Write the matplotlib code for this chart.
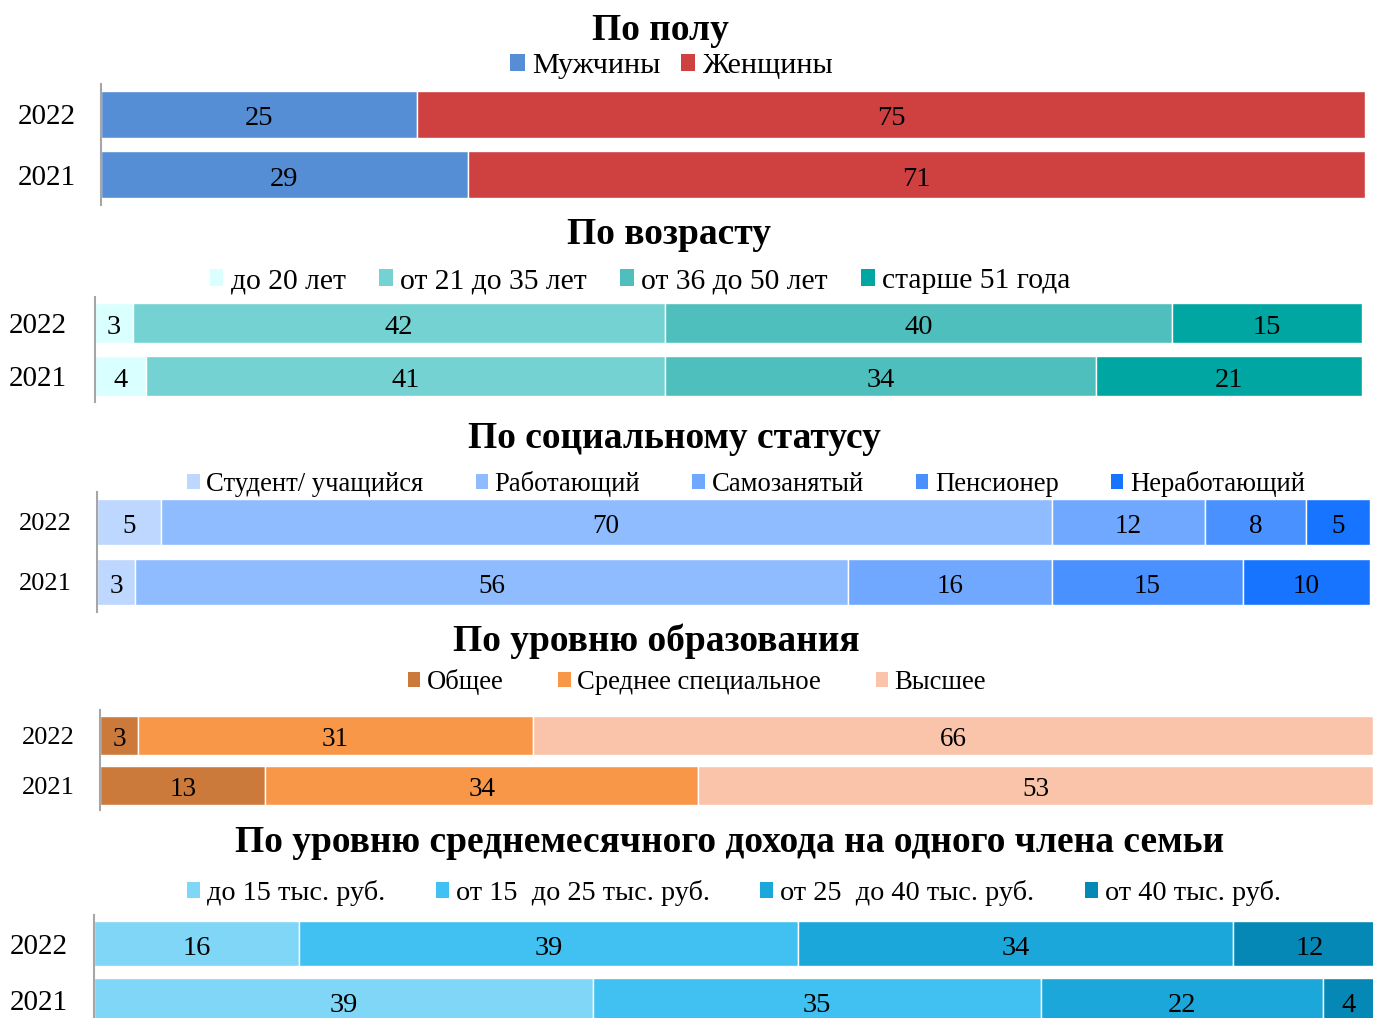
import matplotlib
matplotlib.use('Agg')
import matplotlib.pyplot as plt
from matplotlib.patches import Patch

plt.rcParams['font.family'] = ['Liberation Serif', 'DejaVu Serif']

W, H = 1373, 1018

years = ['2021', '2022']

# По полу
gender_titles = ['Мужчины', 'Женщины']
gender_2022 = [25, 75]
gender_2021 = [29, 71]
gender_colors = ['#558ED5', '#CF4040']

# По возрасту
age_titles = ['до 20 лет', 'от 21 до 35 лет', 'от 36 до 50 лет', 'старше 51 года']
age_2022 = [3, 42, 40, 15]
age_2021 = [4, 41, 34, 21]
age_colors = ['#DAFFFF', '#74D3D2', '#4FBFBD', '#00A6A1']

# По социальному статусу
status_titles = ['Студент/ учащийся', 'Работающий', 'Самозанятый', 'Пенсионер', 'Неработающий']
status_2022 = [5, 70, 12, 8, 5]
status_2021 = [3, 56, 16, 15, 10]
status_colors = ['#BDD7FE', '#8FBCFE', '#70A8FF', '#4891FF', '#1774FF']

# По уровню образования
edu_titles = ['Общее', 'Среднее специальное', 'Высшее']
edu_2022 = [3, 31, 66]
edu_2021 = [13, 34, 53]
edu_colors = ['#CC7A3B', '#F79747', '#F9C4A9']

# По уровню дохода
income_titles = ['до 15 тыс. руб.', 'от 15  до 25 тыс. руб.', 'от 25  до 40 тыс. руб.', 'от 40 тыс. руб.']
income_2022 = [16, 39, 34, 12]
income_2021 = [39, 35, 22, 4]
income_colors = ['#80D6F6', '#40C1F1', '#1BA7DA', '#0688B6']

fig = plt.figure(figsize=(W / 100, H / 100), dpi=100)


def panel(title, labels, v2022, v2021, colors, box, title_xy, leg_xy, colsp, legsize,
          barh=0.78, ysize=21, vsize=20.5, pad=18):
    left, right, top, bottom = box
    ax = fig.add_axes([left / W, 1 - bottom / H, (right - left) / W, (bottom - top) / H])
    lefts = [0, 0]
    for i in range(len(labels)):
        vals = [v2021[i], v2022[i]]
        ax.barh([0, 1], vals, left=lefts, height=barh, color=colors[i],
                edgecolor='white', linewidth=1.0)
        for y in [0, 1]:
            ax.annotate(str(vals[y]), (lefts[y] + vals[y] / 2, y),
                        xytext=(0, -0.33 * vsize - 1.3), textcoords='offset points',
                        ha='center', va='baseline', fontsize=vsize, color='black')
        lefts = [lefts[0] + vals[0], lefts[1] + vals[1]]
    ax.set_xlim(0, 100)
    ax.set_ylim(-0.5, 1.5)
    ax.set_yticks([0, 1])
    ax.set_yticklabels(years, fontsize=ysize)
    ax.tick_params(axis='y', length=0, pad=pad)
    ax.set_xticks([])
    for s in ['top', 'right', 'bottom']:
        ax.spines[s].set_visible(False)
    ax.spines['left'].set_color('#A6A6A6')
    ax.spines['left'].set_linewidth(1.5)

    fig.text(title_xy[0] / W, 1 - title_xy[1] / H, title, ha='center', va='center',
             fontsize=27, fontweight='bold')
    handles = [Patch(facecolor=c, edgecolor='none') for c in colors]
    fig.legend(handles, labels, loc='center', bbox_to_anchor=(leg_xy[0] / W, 1 - leg_xy[1] / H),
               ncol=len(labels), frameon=False, fontsize=legsize, handlelength=0.47,
               handleheight=0.47, handletextpad=0.25, columnspacing=colsp,
               borderaxespad=0, borderpad=0)
    return ax


panel('По полу', gender_titles, gender_2022, gender_2021, gender_colors,
      (101, 1365, 84, 205), (660, 30), (672, 66), 0.68, 21.7)
panel('По возрасту', age_titles, age_2022, age_2021, age_colors,
      (95, 1362, 297, 402), (669, 234), (640, 281), 1.12, 21.3, barh=0.76, pad=20)
panel('По социальному статусу', status_titles, status_2022, status_2021, status_colors,
      (97, 1370, 492, 612), (674, 438), (746, 484), 1.95, 19.2, ysize=19, vsize=19.5)
panel('По уровню образования', edu_titles, edu_2022, edu_2021, edu_colors,
      (100, 1373, 710, 810), (656, 641), (697, 682), 2.04, 19.2, ysize=19, vsize=19.5)
panel('По уровню среднемесячного дохода на одного члена семьи', income_titles,
      income_2022, income_2021, income_colors,
      (94, 1374, 915, 1029), (730, 842), (734, 893), 1.78, 20.3, barh=0.79, pad=19)

fig.savefig('out.png', dpi=100)
